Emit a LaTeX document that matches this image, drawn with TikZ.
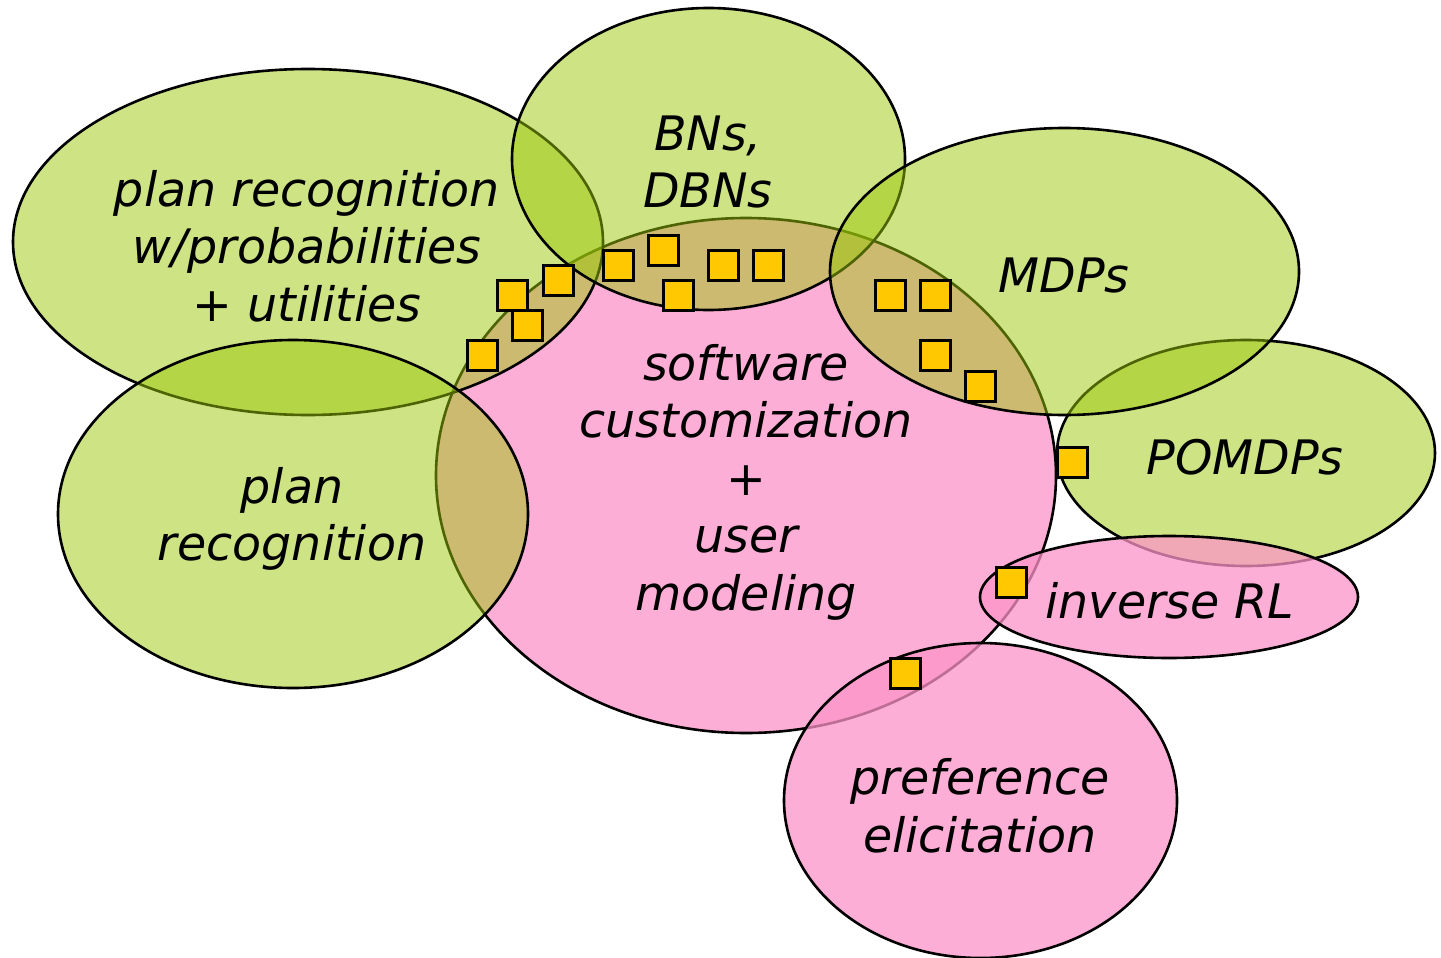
\documentclass[tikz,border=0pt]{standalone}
\usepackage{fontspec}
\setmainfont{DejaVu Sans}

\definecolor{leafgreen}{RGB}{155,199,9}
\definecolor{candypink}{RGB}{252,147,200}
\definecolor{boxyellow}{RGB}{255,200,0}

\tikzset{
    greenset/.style={fill=leafgreen, fill opacity=0.5, draw=black, line width=1.3pt},
    pinkset/.style={fill=candypink, fill opacity=0.75, draw=black, line width=1.3pt},
    overlap/.style={draw=black, fill=boxyellow, line width=1.5pt, minimum size=15pt, inner sep=0pt},
    areatext/.style={align=center, inner sep=0pt, font=\fontsize{23.75pt}{28.75pt}\selectfont\itshape}
}

\begin{document}
\begin{tikzpicture}[x=0.5pt, y=-0.5pt]
    \useasboundingbox (0,0) rectangle (1441,958);

    % Central area
    \draw[pinkset] (746,475.5) ellipse [x radius=310, y radius=257.5];

    % Surrounding areas
    \draw[greenset] (1246,453) ellipse [x radius=189, y radius=113];
    \draw[greenset] (308,242) ellipse [x radius=295, y radius=173];
    \draw[greenset] (708.5,159) ellipse [x radius=196.5, y radius=151];
    \draw[greenset] (1064.5,271.5) ellipse [x radius=234.5, y radius=143.5];
    \draw[greenset] (293,514) ellipse [x radius=235, y radius=174];
    \draw[pinkset] (1169,597) ellipse [x radius=189, y radius=61];
    \draw[pinkset] (980.5,800.5) ellipse [x radius=196.5, y radius=157.5];

    % Markers on the overlaps
    \node[overlap] (m1) at (482,355) {};
    \node[overlap] (m2) at (512,295) {};
    \node[overlap] (m3) at (527,325) {};
    \node[overlap] (m4) at (558,280) {};
    \node[overlap] (m5) at (618,265) {};
    \node[overlap] (m6) at (663,250) {};
    \node[overlap] (m7) at (678,295) {};
    \node[overlap] (m8) at (723,265) {};
    \node[overlap] (m9) at (768,265) {};
    \node[overlap] (m10) at (890,295) {};
    \node[overlap] (m11) at (935,295) {};
    \node[overlap] (m12) at (935,355) {};
    \node[overlap] (m13) at (980,386) {};
    \node[overlap] (m14) at (1072,462) {};
    \node[overlap] (m15) at (1011,582) {};
    \node[overlap] (m16) at (905,673) {};

    % Area names
    \node[areatext] (custom) at (746,482) {software\\customization\\+\\user\\modeling};
    \node[areatext] (planprob) at (307,246) {plan recognition\\w/probabilities\\+ utilities};
    \node[areatext] (bns) at (708,162) {BNs,\\DBNs};
    \node[areatext] (mdps) at (1064,276) {MDPs};
    \node[areatext] (pomdps) at (1245,457) {POMDPs};
    \node[areatext] (planrec) at (292,519) {plan\\recognition};
    \node[areatext] (irl) at (1170,601) {inverse RL};
    \node[areatext] (prefs) at (980,806) {preference\\elicitation};

\end{tikzpicture}
\end{document}
